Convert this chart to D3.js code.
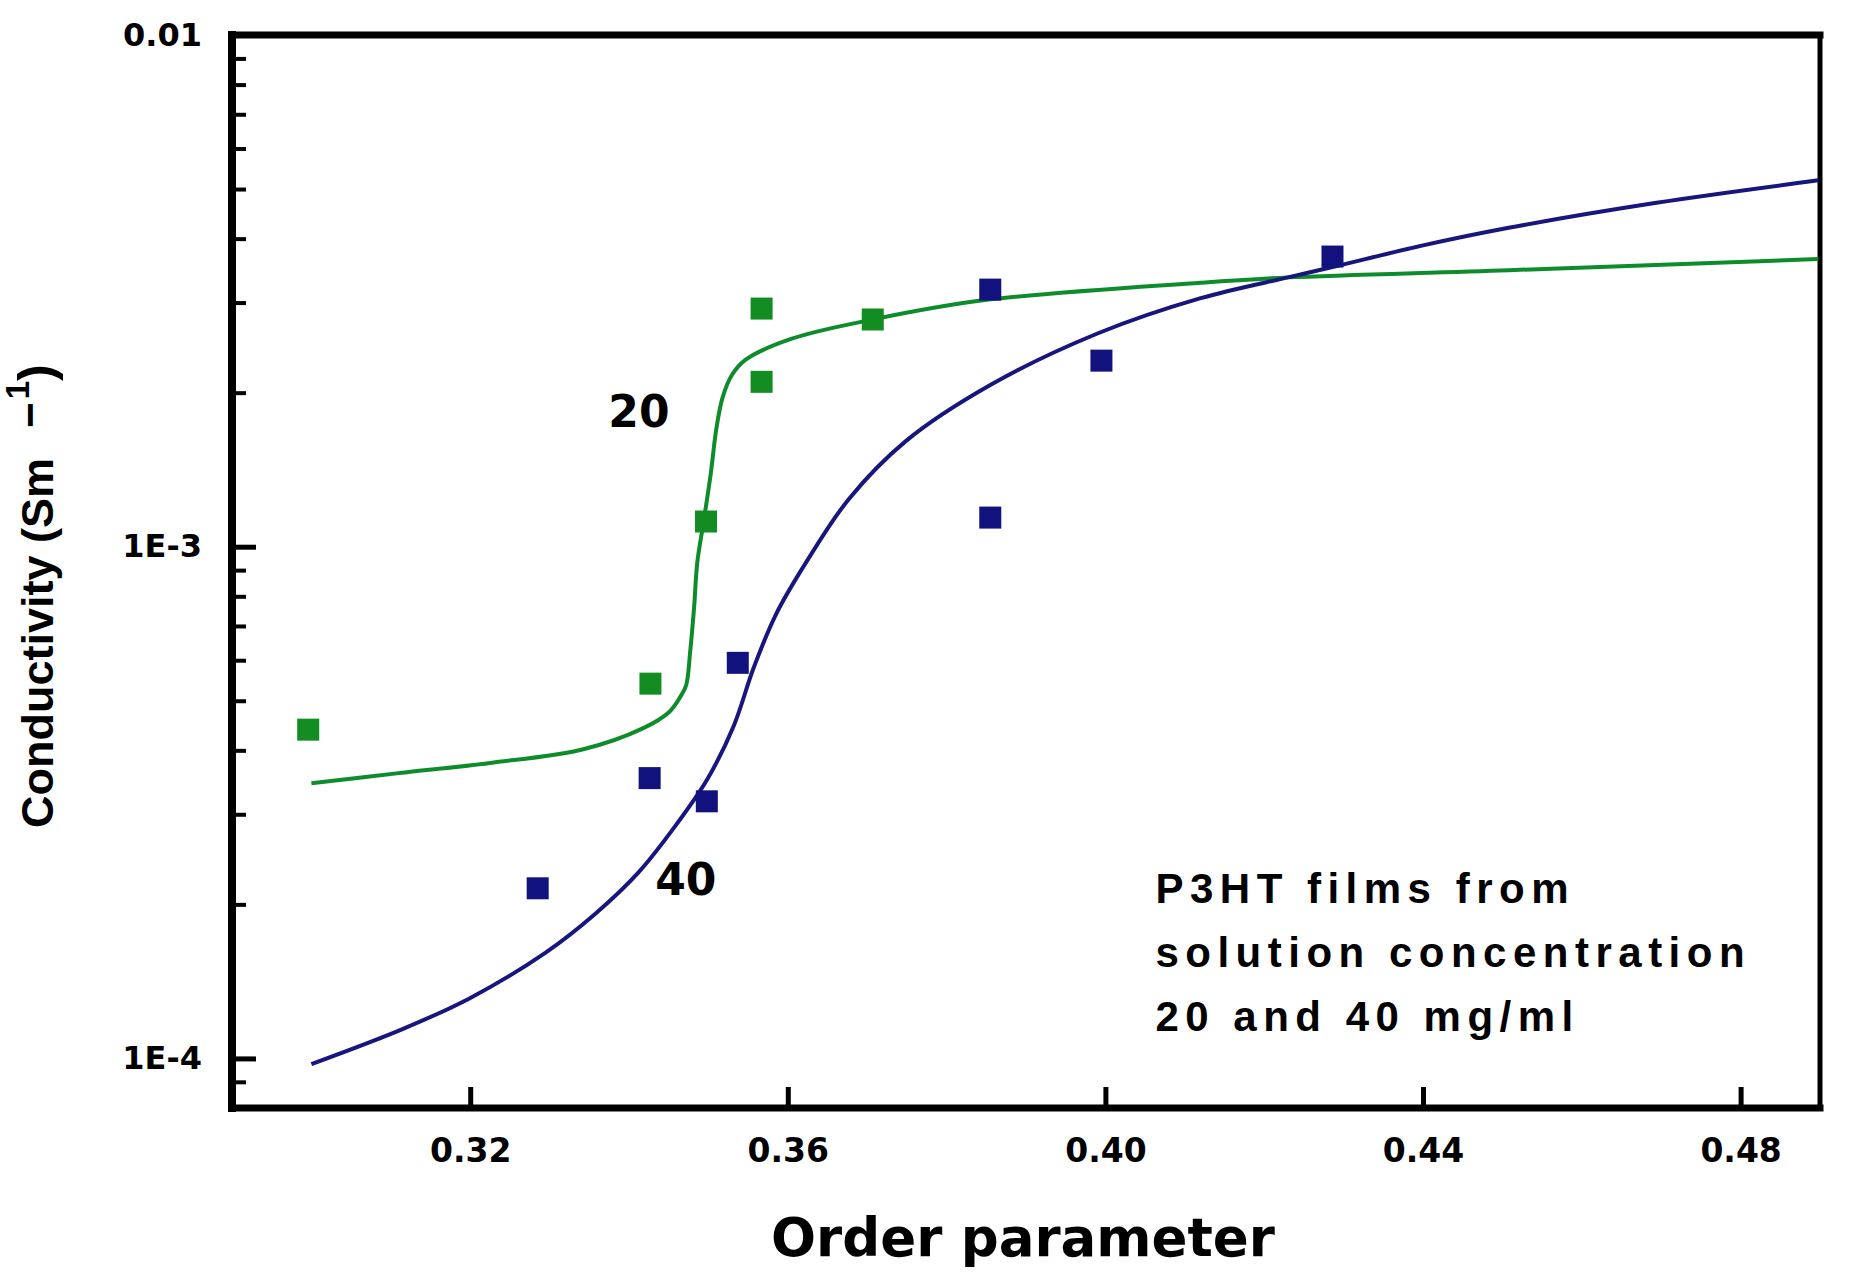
<!DOCTYPE html>
<html>
<head>
    <meta charset="utf-8"/>
    <title>Conductivity vs order parameter</title>
    <script src="https://d3js.org/d3.v7.min.js"></script>
</head>

<style>
    body {
        margin: 0;
        background: #fff;
    }
    svg {
        display: block;
    }
    .axis text {
        font-family: "DejaVu Sans", sans-serif;
        font-weight: bold;
        fill: #000;
    }
    .curve {
        fill: none;
        stroke-width: 4px;
    }
    .frame {
        stroke: #000;
        stroke-linecap: square;
    }
</style>
<body>
    <div id="chart"></div>
</body>

<script type="text/javascript">
    // measured points, 20 mg/ml (green) and 40 mg/ml (blue)
    var points20 = [[0.2996, 4.39e-4], [0.3427, 5.40e-4], [0.3497, 1.12e-3],
                    [0.3567, 2.92e-3], [0.3567, 2.10e-3], [0.3707, 2.78e-3]];
    var points40 = [[0.3285, 2.15e-4], [0.3426, 3.53e-4], [0.3498, 3.18e-4],
                    [0.3537, 5.93e-4], [0.3855, 3.18e-3], [0.3855, 1.14e-3],
                    [0.3995, 2.31e-3], [0.4286, 3.69e-3]];

    // fitted curves
    var fit20 = [[0.3000, 3.45e-4], [0.3110, 3.61e-4], [0.3225, 3.78e-4], [0.3340, 4.01e-4],
                 [0.3418, 4.42e-4], [0.3451, 4.76e-4], [0.3465, 5.10e-4], [0.3472, 5.36e-4],
                 [0.3477, 6.23e-4], [0.3482, 7.62e-4], [0.3486, 9.31e-4], [0.3494, 1.12e-3],
                 [0.3503, 1.39e-3], [0.3510, 1.70e-3], [0.3518, 1.96e-3], [0.3530, 2.17e-3],
                 [0.3547, 2.32e-3], [0.3605, 2.55e-3], [0.3707, 2.78e-3], [0.3846, 3.03e-3],
                 [0.4120, 3.28e-3], [0.4230, 3.36e-3], [0.4508, 3.47e-3], [0.4898, 3.65e-3]];
    var fit40 = [[0.3000, 9.75e-5], [0.3114, 1.14e-4], [0.3199, 1.31e-4], [0.3295, 1.61e-4],
                 [0.3358, 1.92e-4], [0.3412, 2.31e-4], [0.3460, 2.87e-4], [0.3499, 3.52e-4],
                 [0.3532, 4.47e-4], [0.3557, 5.80e-4], [0.3585, 7.37e-4], [0.3624, 9.37e-4],
                 [0.3677, 1.24e-3], [0.3749, 1.61e-3], [0.3855, 2.07e-3], [0.3990, 2.61e-3],
                 [0.4120, 3.06e-3], [0.4230, 3.36e-3], [0.4286, 3.52e-3], [0.4400, 3.88e-3],
                 [0.4508, 4.20e-3], [0.4694, 4.70e-3], [0.4898, 5.20e-3]];

    var xTicks = [0.32, 0.36, 0.40, 0.44, 0.48];
    var yMajor = [1e-4, 1e-3, 1e-2];
    var yMajorLabels = ["1E-4", "1E-3", "0.01"];
    var yMinor = [9e-5, 2e-4, 3e-4, 4e-4, 5e-4, 6e-4, 7e-4, 8e-4, 9e-4,
                  2e-3, 3e-3, 4e-3, 5e-3, 6e-3, 7e-3, 8e-3, 9e-3];

    var curveLabels = [{text: "20", x: 0.3374, y: 1.71e-3},
                       {text: "40", x: 0.3433, y: 2.09e-4}];
    var noteLines = ["P3HT films from", "solution concentration", "20 and 40 mg/ml"];
    var notePos = {x: 0.4063, y: 2.01e-4};

    var green = "#138c22", greenLine = "#0e8c2c";
    var blue = "#12127f", blueLine = "#16167c";

    var width = 1853, height = 1288;
    var margin = {top: 35, right: 33, bottom: 180, left: 232};

    var svg = d3.select("#chart").append("svg")
        .attr("width", width)
        .attr("height", height);

    svg.append("rect")
        .attr("width", width)
        .attr("height", height)
        .attr("fill", "#fff");

    var x = d3.scaleLinear()
        .domain([0.29, 0.49])
        .range([margin.left, width - margin.right]);
    var y = d3.scaleLog()
        .domain([8e-5, 0.01])
        .range([height - margin.bottom, margin.top]);

    // x axis, ticks point inward
    var xAxis = svg.append("g")
        .attr("class", "axis")
        .attr("transform", "translate(0," + y.range()[0] + ")")
        .call(d3.axisBottom(x).tickValues(xTicks).tickSize(-21).tickPadding(31)
              .tickFormat(d3.format(".2f")));
    xAxis.attr("font-size", 33).attr("font-family", null);
    xAxis.select(".domain").remove();
    xAxis.selectAll("line").attr("stroke-width", 5);

    // y axis major
    var yAxis = svg.append("g")
        .attr("class", "axis")
        .attr("transform", "translate(" + x.range()[0] + ",0)")
        .call(d3.axisLeft(y).tickValues(yMajor).tickSize(-24).tickPadding(30)
              .tickFormat(function(d, i){ return yMajorLabels[i]; }));
    yAxis.attr("font-size", 32).attr("font-family", null);
    yAxis.select(".domain").remove();
    yAxis.selectAll("line").attr("stroke-width", 5);

    // y axis minor
    var yMinorAxis = svg.append("g")
        .attr("transform", "translate(" + x.range()[0] + ",0)")
        .call(d3.axisLeft(y).tickValues(yMinor).tickSize(-14).tickFormat(""));
    yMinorAxis.select(".domain").remove();
    yMinorAxis.selectAll("line").attr("stroke-width", 4);

    // frame
    var x0 = x.range()[0], x1 = x.range()[1], y0 = y.range()[1], y1 = y.range()[0];
    var frame = svg.append("g");
    frame.append("line").attr("class", "frame").attr("x1", x0).attr("x2", x1)
        .attr("y1", y0).attr("y2", y0).attr("stroke-width", 7);
    frame.append("line").attr("class", "frame").attr("x1", x0).attr("x2", x1)
        .attr("y1", y1).attr("y2", y1).attr("stroke-width", 7);
    frame.append("line").attr("class", "frame").attr("x1", x0).attr("x2", x0)
        .attr("y1", y0).attr("y2", y1).attr("stroke-width", 8);
    frame.append("line").attr("class", "frame").attr("x1", x1).attr("x2", x1)
        .attr("y1", y0).attr("y2", y1).attr("stroke-width", 5);

    // fitted curves
    var line = d3.line()
        .x(function(d){ return x(d[0]); })
        .y(function(d){ return y(d[1]); })
        .curve(d3.curveCatmullRom.alpha(0.5));

    svg.append("path").datum(fit20).attr("class", "curve")
        .attr("stroke", greenLine).attr("d", line);
    svg.append("path").datum(fit40).attr("class", "curve")
        .attr("stroke", blueLine).attr("d", line);

    // square markers
    var size = 22;
    function drawPoints(data, color){
        svg.append("g").selectAll("rect")
            .data(data)
            .enter()
            .append("rect")
            .attr("x", function(d){ return x(d[0]) - size / 2; })
            .attr("y", function(d){ return y(d[1]) - size / 2; })
            .attr("width", size)
            .attr("height", size)
            .attr("fill", color);
    }
    drawPoints(points20, green);
    drawPoints(points40, blue);

    // curve labels
    svg.selectAll(".curve-label")
        .data(curveLabels)
        .enter()
        .append("text")
        .attr("class", "curve-label")
        .attr("x", function(d){ return x(d.x); })
        .attr("y", function(d){ return y(d.y); })
        .attr("font-family", "DejaVu Sans, sans-serif")
        .attr("font-weight", "bold")
        .attr("font-size", 44)
        .text(function(d){ return d.text; });

    // note text
    var note = svg.append("text")
        .attr("x", x(notePos.x))
        .attr("y", y(notePos.y))
        .attr("font-family", "Liberation Sans, Arial, sans-serif")
        .attr("font-weight", "bold")
        .attr("font-size", 42)
        .attr("letter-spacing", 6.5);
    note.selectAll("tspan")
        .data(noteLines)
        .enter()
        .append("tspan")
        .attr("x", x(notePos.x))
        .attr("dy", function(d, i){ return i == 0 ? 0 : 64; })
        .text(function(d){ return d; });

    // axis titles
    svg.append("text")
        .attr("x", (x0 + x1) / 2 - 3)
        .attr("y", 1256)
        .attr("text-anchor", "middle")
        .attr("font-family", "DejaVu Sans, sans-serif")
        .attr("font-weight", "bold")
        .attr("font-size", 53)
        .text("Order parameter");

    var yTitle = svg.append("text")
        .attr("transform", "translate(53,828) rotate(-90)")
        .attr("font-family", "Liberation Sans, Arial, sans-serif")
        .attr("font-weight", "bold")
        .attr("font-size", 45);
    yTitle.append("tspan").text("Conductivity (Sm");
    yTitle.append("tspan").attr("dx", 30).attr("dy", -8).attr("font-size", 44).text("\u2212");
    yTitle.append("tspan").attr("dx", 3).attr("dy", -16).attr("font-size", 33).text("1");
    yTitle.append("tspan").attr("dx", 0).attr("dy", 24).attr("font-size", 50).text(")");
</script>
</html>
